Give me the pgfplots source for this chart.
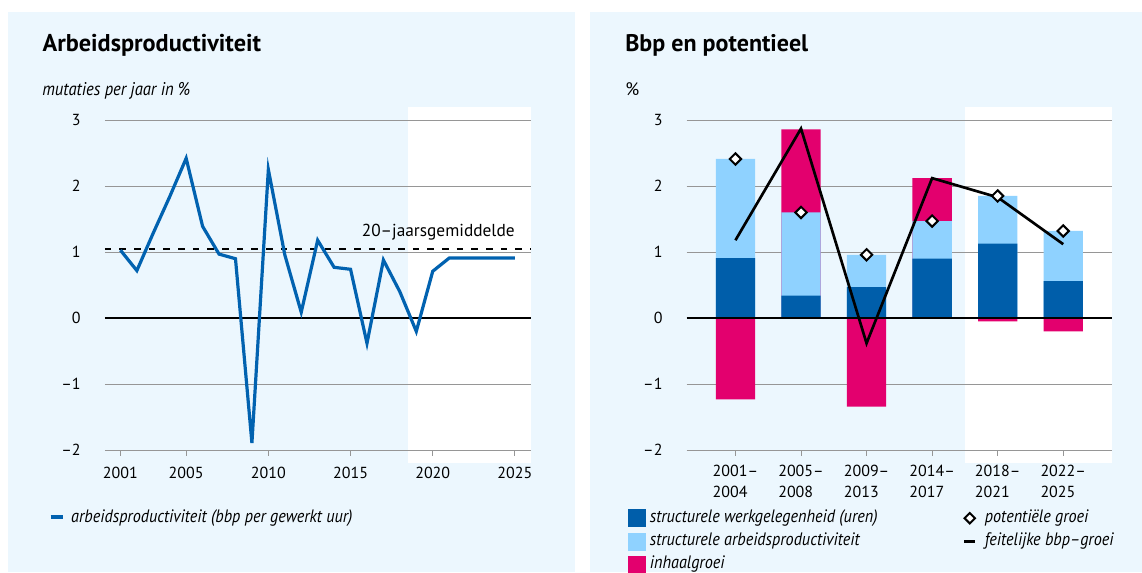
\documentclass[border=0pt]{standalone}
\usepackage{fontspec}
\setmainfont{PT Sans}
\newfontfamily\itf{PT Sans}[FakeStretch=0.9]
\usepackage{pgfplots}
\pgfplotsset{compat=1.18}
\usepackage{xcolor}
\definecolor{bg}{RGB}{236,247,254}
\definecolor{dblue}{RGB}{0,94,170}
\definecolor{lblue}{RGB}{143,210,255}
\definecolor{roze}{RGB}{227,0,110}
\definecolor{lineblue}{RGB}{1,98,176}
\definecolor{gridgray}{RGB}{150,150,150}

\pgfplotsset{
  panel/.style={
    scale only axis, height=247.7pt,
    ymin=-2, ymax=3,
    axis line style={draw=none},
    ytick={-2,-1,0,1,2,3},
    yticklabels={–2,–1,0,1,2,3},
    ymajorgrids, grid style={gridgray, line width=0.75pt},
    ytick style={draw=none},
    xtick pos=left, tick align=outside, major tick length=4pt,
    xtick style={gridgray, line width=0.75pt},
    ticklabel style={font=\fontsize{12}{15.75}\selectfont},
    yticklabel style={xshift=-10.6pt},
    legend cell align=left,
    clip=false,
  },
}

\begin{document}
\begin{tikzpicture}
\path[use as bounding box] (0,0) rectangle (856.5pt,-429pt);
% panels
\fill[bg] (6pt,-9pt) rectangle (431.25pt,-429pt);
\fill[bg] (442.5pt,-9pt) rectangle (856.5pt,-429pt);
% forecast areas
\fill[white] (306.15pt,-80.25pt) rectangle (397.9pt,-347.25pt);
\fill[white] (723.8pt,-80.25pt) rectangle (833.8pt,-347.25pt);

% titles
\node[anchor=base west, inner sep=0pt, font=\fontsize{18.2}{21}\selectfont\bfseries] at (31.8pt,-38.8pt) {Arbeidsproductiviteit};
\node[anchor=base west, inner sep=0pt, font=\fontsize{18}{21}\selectfont\bfseries] at (468.75pt,-38.8pt) {Bbp en potentieel};
\node[anchor=base west, inner sep=0pt, font=\fontsize{13.8}{16}\selectfont\itf\itshape] at (31.5pt,-71.8pt) {mutaties per jaar in \%};
\node[anchor=base west, inner sep=0pt, font=\fontsize{13.5}{16}\selectfont] at (468.75pt,-71.8pt) {\%};

%% left: arbeidsproductiviteit
\begin{axis}[panel,
  at={(78.6pt,-337.7pt)}, anchor=south west,
  width=319.3pt,
  xmin=2000.05, xmax=2025.95,
  xtick={2001,2005,2010,2015,2020,2025},
  xticklabels={2001,2005,2010,2015,2020,2025},
  xticklabel style={yshift=-5.3pt},
  legend style={at={(-0.1327,-0.2028)}, anchor=west, draw=none, fill=none,
    inner sep=0pt, nodes={inner sep=0pt},
    font=\fontsize{13.5}{16}\selectfont\itf\itshape,
    /tikz/column 1/.style={column sep=5pt}},
  legend image code/.code={\draw[line width=3pt, lineblue] (0pt,0pt) -- (9pt,0pt);},
]
\draw[black, line width=1.5pt] (axis cs:2000.05,0) -- (axis cs:2025.95,0);
\draw[black, line width=1.4pt, dash pattern=on 5pt off 6pt] (axis cs:2000.05,1.05) -- (axis cs:2025.95,1.05);
\node[anchor=base east, inner sep=0pt, font=\fontsize{13}{15}\selectfont] at (axis cs:2025.0,1.236) {20–jaarsgemiddelde};
\addplot[lineblue, line width=2.4pt] coordinates {
  (2001,1.03) (2002,0.72) (2003,1.29) (2004,1.84) (2005,2.42)
  (2006,1.39) (2007,0.97) (2008,0.90) (2009,-1.89) (2010,2.25)
  (2011,0.96) (2012,0.09) (2013,1.18) (2014,0.77) (2015,0.74)
  (2016,-0.38) (2017,0.88) (2018,0.40) (2019,-0.20) (2020,0.71)
  (2021,0.91) (2022,0.91) (2023,0.91) (2024,0.91) (2025,0.91)
};
\addlegendentry{arbeidsproductiviteit (bbp per gewerkt uur)}
\end{axis}

%% right: bbp en potentieel
\begin{axis}[panel,
  at={(515pt,-337.7pt)}, anchor=south west,
  width=318.8pt,
  xmin=-0.744, xmax=5.74,
  xtick={0,1,2,3,4,5},
  xticklabels={{2001–\\2004},{2005–\\2008},{2009–\\2013},{2014–\\2017},{2018–\\2021},{2022–\\2025}},
  xticklabel style={yshift=-3.7pt, align=left},
  legend columns=2,
  legend style={at={(-0.1378,-0.1783)}, anchor=north west, draw=none, fill=none,
    inner sep=0pt, nodes={inner sep=0pt, text height=9.5pt, text depth=3pt},
    row sep=4.15pt,
    font=\fontsize{13.5}{16}\selectfont\itf\itshape,
    /tikz/column 1/.style={column sep=3pt},
    /tikz/column 2/.style={column sep=64pt},
    /tikz/column 3/.style={column sep=6.2pt}},
]
\addplot[ybar, bar width=0.6, bar shift=0pt, fill=roze, draw=none, forget plot] coordinates {
  (0,-1.23) (1,2.86) (2,-1.34) (3,2.12) (4,-0.05) (5,-0.20)};
\addplot[ybar, bar width=0.6, bar shift=0pt, fill=lblue, draw=none, forget plot] coordinates {
  (0,2.41) (1,1.60) (2,0.96) (3,1.47) (4,1.85) (5,1.32)};
\addplot[ybar, bar width=0.6, bar shift=0pt, fill=dblue, draw=none, forget plot] coordinates {
  (0,0.91) (1,0.34) (2,0.47) (3,0.90) (4,1.13) (5,0.56)};
\draw[black, line width=1.5pt] (axis cs:-0.744,0) -- (axis cs:5.74,0);
\addplot[black, line width=2pt, forget plot] coordinates {
  (0,1.18) (1,2.87) (2,-0.38) (3,2.12) (4,1.83) (5,1.12)};
\addplot[only marks, mark=square*, mark size=3pt,
  mark options={rotate=45, fill=white, draw=black, line width=1.5pt}, forget plot] coordinates {
  (0,2.41) (1,1.60) (2,0.96) (3,1.47) (4,1.85) (5,1.32)};

\addlegendimage{legend image code/.code={\fill[dblue] (0pt,-6.4pt) rectangle (12.75pt,6.4pt);}}
\addlegendentry{structurele werkgelegenheid (uren)}
\addlegendimage{legend image code/.code={
  \draw[black, line width=1.5pt, fill=white] (4.05pt,3.9pt) -- (7.95pt,0pt) -- (4.05pt,-3.9pt) -- (0.15pt,0pt) -- cycle;}}
\addlegendentry{potentiële groei}
\addlegendimage{legend image code/.code={\fill[lblue] (0pt,-6.4pt) rectangle (12.75pt,6.4pt);}}
\addlegendentry{structurele arbeidsproductiviteit}
\addlegendimage{legend image code/.code={
  \draw[black, line width=2.2pt] (0pt,0pt) -- (8.1pt,0pt);}}
\addlegendentry{feitelijke bbp–groei}
\addlegendimage{legend image code/.code={\fill[roze] (0pt,-6.4pt) rectangle (12.75pt,6.4pt);}}
\addlegendentry{inhaalgroei}
\end{axis}
\end{tikzpicture}
\end{document}
